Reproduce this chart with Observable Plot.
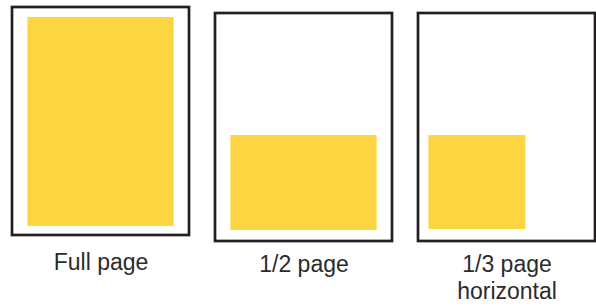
<!DOCTYPE html>
<html><head><meta charset="utf-8">
<script src="https://cdn.jsdelivr.net/npm/d3@7"></script>
<script src="https://cdn.jsdelivr.net/npm/@observablehq/plot@0.6"></script>
<style>body{margin:0;background:#fff}</style>
</head><body><div id="chart"></div>
<script>
// Page sizes and ad areas, in inches
const pages = ["Full page", "1/2 page", "1/3 page\nhorizontal"];
const pageWidth = [8.5, 8.5, 8.5];
const pageHeight = [11, 11, 11];
const adLeft = [0.74, 0.74, 0.5];
const adRight = [7.76, 7.76, 5.16];
const adTop = [0.48, 5.89, 5.89];
const adBottom = [10.56, 10.47, 10.42];

const rows = pages.map((page, i) => ({
  page, w: pageWidth[i], h: pageHeight[i],
  x1: adLeft[i], x2: adRight[i], y1: adTop[i], y2: adBottom[i]
}));
const isFirst = d => d.page === pages[0];
const isRest = d => d.page !== pages[0];

const yellow = "#fdd540", ink = "#231f20";
function layers(filter, dy, textDy) {
  return [
    Plot.rect(rows, {filter, fx: "page", x1: "x1", x2: "x2", y1: "y1", y2: "y2", fill: yellow, dy}),
    Plot.rect(rows, {filter, fx: "page", x1: d => 0, x2: "w", y1: d => 0, y2: "h",
      fill: "none", stroke: ink, strokeWidth: 2.7, dy}),
    Plot.text(rows, {filter, fx: "page", x: d => d.w / 2, y: "h", text: "page",
      lineAnchor: "top", dy: textDy, fontSize: 23, lineHeight: 1.17,
      fontFamily: "Liberation Sans, Arial, sans-serif", fill: "#2b2b2b",
      style: "letter-spacing:0.3px"})
  ];
}

const chart = Plot.plot({
  width: 596, height: 307,
  marginLeft: 0, marginRight: 0, marginTop: 0, marginBottom: 0,
  fx: {domain: pages, range: [11.5, 595.5], paddingInner: 0.1302, paddingOuter: 0, axis: null, label: null},
  x: {domain: [0, 8.5], axis: null},
  y: {domain: [0, 11], range: [13, 241], axis: null},
  marks: [
    ...layers(isFirst, -6, 9),
    ...layers(isRest, 0, 11)
  ]
});
document.getElementById("chart").appendChild(chart);
</script>
</body></html>
